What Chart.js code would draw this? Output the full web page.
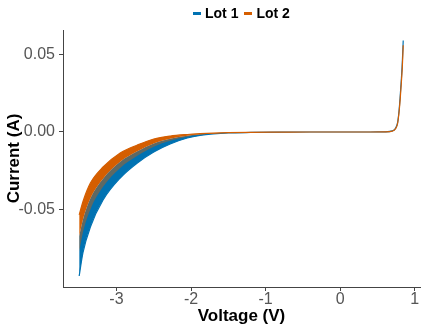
<!DOCTYPE html>
<html>
<head>
<meta charset="utf-8">
<script src="https://cdn.jsdelivr.net/npm/chart.js@4.4.1/dist/chart.umd.min.js"></script>
<style>
    body { margin: 0; background: #fff; }
    #wrap { position: relative; width: 423px; height: 328px; }
    #legend {
        position: absolute; top: 4px; left: 193px; height: 18px;
        display: flex; align-items: center;
        font: bold 14px "Liberation Sans", Arial, sans-serif; color: #000;
    }
    #legend .dash { display: inline-block; width: 8px; height: 3px; margin-right: 4px; }
    #legend .item { display: flex; align-items: center; margin-right: 6px; }
</style>
</head>
<body>
<div id="wrap">
    <canvas id="ivChart" width="423" height="328"></canvas>
    <div id="legend"></div>
</div>
<script>
// Tension (V)
const voltage = [-3.5, -3.45, -3.35, -3.18, -2.95, -2.72, -2.5, -2.28, -2.05, -1.88, -1.7, -1.5, -1.2, -0.8,
                 -0.4, 0, 0.4, 0.6, 0.7, 0.74, 0.77, 0.79, 0.805, 0.82, 0.833, 0.845];

// Lot 1 (bleu) : bords bas et haut du faisceau de courbes (A)
const lot1Lower = [-0.0929, -0.078, -0.0613, -0.0439, -0.0297, -0.02, -0.0129, -0.0077, -0.0039, -0.0022, -0.0012, -0.0006, -0.0003, -0.0001,
                   0, 0, 0, 0.0001, 0.0007, 0.0023, 0.0062, 0.0142, 0.0235, 0.034, 0.045, 0.059];
const lot1Upper = [-0.0673, -0.0566, -0.0429, -0.0301, -0.0192, -0.0125, -0.0074, -0.0044, -0.0024, -0.0015, -0.0009, -0.0005, -0.0002, -0.0001,
                   0, 0, 0, 0.0001, 0.0007, 0.0022, 0.006, 0.0138, 0.0228, 0.033, 0.044, 0.058];

// Lot 2 (orange) : bord bas, zone de recouvrement, bord haut
const lot2Lower = [-0.0771, -0.0648, -0.05, -0.0354, -0.0232, -0.0154, -0.0095, -0.0057, -0.003, -0.0018, -0.001, -0.0005, -0.0003, -0.0001,
                   0, 0, 0, 0.0001, 0.0006, 0.002, 0.0058, 0.0135, 0.0222, 0.033, 0.043, 0.057];
const lot2Mid = [-0.0673, -0.0566, -0.0429, -0.0301, -0.0192, -0.0125, -0.0074, -0.0044, -0.0024, -0.0015, -0.0009, -0.0005, -0.0002, -0.0001,
                 0, 0, 0, 0.0001, 0.0006, 0.002, 0.0057, 0.0133, 0.0218, 0.032, 0.042, 0.056];
const lot2Upper = [-0.0535, -0.045, -0.033, -0.0226, -0.0135, -0.0084, -0.0045, -0.0026, -0.0016, -0.0011, -0.0007, -0.0004, -0.0002, -0.0001,
                   0, 0, 0, 0.0001, 0.0006, 0.002, 0.0056, 0.0132, 0.0215, 0.032, 0.042, 0.056];

const lotLabels = ['Lot 1', 'Lot 2'];
const lotColors = ['#0072B2', '#D55E00'];

const xTicks = [-3, -2, -1, 0, 1];
const yTicks = [-0.05, 0, 0.05];

const FONT = '"Liberation Sans", Arial, sans-serif';

function toPoints(ys) {
    return voltage.map((v, i) => ({ x: v, y: ys[i] }));
}

// une courbe du faisceau ; fillAlpha = null -> pas de remplissage
function band(ys, color, lineAlpha, fillAlpha) {
    return {
        data: toPoints(ys),
        borderColor: color + lineAlpha,
        backgroundColor: color + (fillAlpha || '00'),
        borderWidth: lineAlpha === '00' ? 0 : 1.2,
        pointRadius: 0,
        cubicInterpolationMode: 'monotone',
        fill: fillAlpha ? '-1' : false
    };
}

// legende en HTML pour la centrer sur le panneau
const legend = document.getElementById('legend');
lotLabels.forEach((name, i) => {
    const item = document.createElement('span');
    item.className = 'item';
    item.innerHTML = `<span class="dash" style="background:${lotColors[i]}"></span>${name}`;
    legend.appendChild(item);
});

// le dataset 0 est dessine en dernier (au-dessus) : Lot 2 d'abord
const datasets = [
    band(lot2Lower, lotColors[1], '00', null),
    band(lot2Mid, lotColors[1], '00', '70'),
    band(lot2Upper, lotColors[1], 'FF', 'FF'),
    band(lot1Lower, lotColors[0], 'FF', null),
    band(lot1Upper, lotColors[0], '00', 'FF')
];

const axisColor = '#444';

new Chart(document.getElementById('ivChart'), {
    type: 'line',
    data: { datasets: datasets },
    options: {
        responsive: false,
        animation: false,
        layout: { padding: { top: 30, right: 3, left: 0, bottom: 0 } },
        plugins: { legend: { display: false }, tooltip: { enabled: false } },
        scales: {
            x: {
                type: 'linear',
                min: -3.717,
                max: 1.07,
                afterBuildTicks: s => { s.ticks = xTicks.map(v => ({ value: v })); },
                afterFit: s => { s.height = 41; },
                grid: { drawOnChartArea: false, drawTicks: true, tickLength: 4, color: axisColor },
                border: { display: true, color: axisColor, width: 1 },
                ticks: { color: '#555', padding: -1, font: { family: FONT, size: 16 }, callback: v => String(v) },
                title: { display: true, text: 'Voltage (V)', color: '#000', padding: { top: 0, bottom: 1 },
                         font: { family: FONT, size: 17, weight: 'bold' } }
            },
            y: {
                type: 'linear',
                min: -0.1,
                max: 0.0658,
                afterBuildTicks: s => { s.ticks = yTicks.map(v => ({ value: v })); },
                afterFit: s => { s.width = 63; },
                grid: { drawOnChartArea: false, drawTicks: true, tickLength: 4, color: axisColor },
                border: { display: true, color: axisColor, width: 1 },
                ticks: { color: '#555', padding: 4, font: { family: FONT, size: 16 }, callback: v => v.toFixed(2) },
                title: { display: true, text: 'Current (A)', color: '#000', padding: { top: 4, bottom: 0 },
                         font: { family: FONT, size: 17, weight: 'bold' } }
            }
        }
    }
});
</script>
</body>
</html>
